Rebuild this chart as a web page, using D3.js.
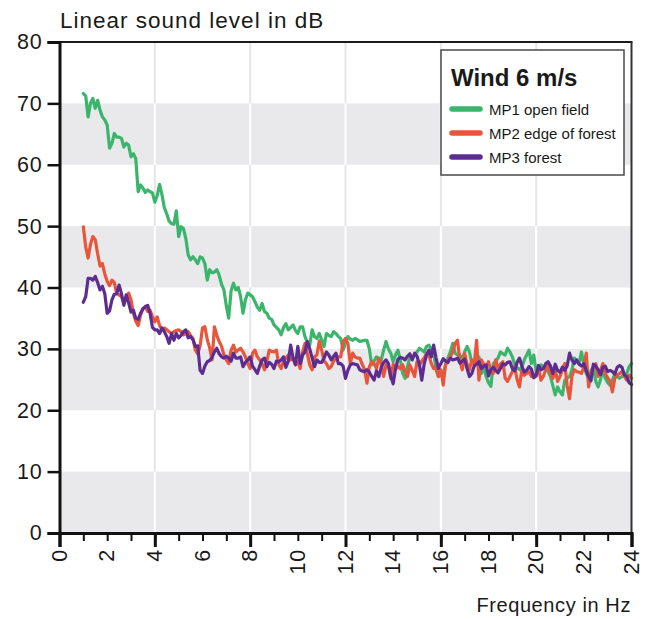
<!DOCTYPE html>
<html><head><meta charset="utf-8">
<script src="https://cdn.jsdelivr.net/npm/d3@7"></script>
<style>
body{margin:0;background:#fff}
text{font-family:"Liberation Sans",Arial,sans-serif;fill:#1a1a1a}
</style>
</head><body>
<svg id="chart" width="649" height="619"></svg>
<script>
// Frequency axis of the measured spectra: 1.0 Hz to 24.0 Hz in 0.1 Hz steps
const freqStart = 1.0;
const freqStep = 0.1;

// MP1 open field (one row per Hz: x.0 ... x.9)
const mp1 = [
71.6,71.2,67.8,70.0,70.8,69.2,70.5,68.9,67.8,67.3,
66.5,62.7,63.5,65.1,64.5,64.5,64.3,62.9,63.5,63.2,
61.3,61.8,61.0,55.6,56.7,56.2,55.5,55.9,55.6,55.4,
53.9,55.0,56.8,55.1,53.0,52.0,50.8,50.4,50.3,52.5,
48.3,49.9,49.6,48.0,45.3,44.5,45.0,44.5,43.9,45.0,
44.8,43.9,41.2,42.9,42.4,42.5,42.9,42.0,40.5,39.6,
37.0,35.0,39.5,40.7,39.6,40.0,38.5,35.8,38.0,39.1,
38.8,38.5,37.7,36.8,36.3,37.4,36.1,35.8,35.0,34.8,
33.9,33.5,33.1,32.3,33.5,34.1,33.1,33.5,33.9,33.0,
32.5,33.6,33.6,32.0,31.0,30.6,33.1,32.0,31.7,32.5,
31.5,30.4,32.5,32.2,32.0,32.8,32.5,32.0,31.7,29.8,
31.0,32.0,31.6,31.4,31.7,31.5,31.2,31.3,31.4,31.4,
30.0,27.4,28.0,28.7,28.3,28.2,29.8,31.2,30.0,29.3,
27.9,29.0,29.8,28.2,26.0,25.2,27.1,28.7,28.5,29.0,
29.5,30.1,29.8,29.5,30.4,30.6,30.0,29.5,26.6,25.5,
25.8,26.0,27.4,28.5,29.5,30.9,29.3,29.0,29.0,28.2,
29.5,30.4,29.5,27.7,28.0,28.2,28.7,26.0,27.0,25.5,
24.5,23.9,27.6,28.0,28.5,29.5,29.2,29.0,30.1,29.5,
28.7,27.4,27.0,26.6,27.0,28.2,29.0,29.8,27.6,29.0,
26.3,26.8,27.4,27.0,26.8,26.3,25.5,24.0,22.5,23.8,
23.0,22.5,24.9,25.2,25.5,26.6,28.5,28.0,27.6,29.5,
27.5,26.0,25.2,26.5,27.1,24.7,23.8,25.0,26.6,25.2,
24.5,24.1,24.9,26.0,25.5,25.2,25.5,25.8,26.0,27.1,
27.6
];

// MP2 edge of forest
const mp2 = [
49.9,46.6,44.8,47.0,48.3,47.8,45.5,43.5,43.9,42.2,
41.0,40.3,41.2,40.8,39.0,38.8,38.5,37.5,38.0,39.1,
38.0,35.8,34.5,33.8,35.5,36.6,36.8,36.1,36.3,35.3,
34.4,35.2,33.8,33.1,33.4,33.1,32.8,32.5,32.8,33.0,
33.1,32.8,32.3,32.5,32.8,32.2,31.7,29.8,29.2,30.5,
33.4,33.6,31.5,30.2,28.2,33.6,32.2,31.2,30.4,29.0,
28.2,27.6,29.8,30.6,29.5,29.8,30.1,29.5,28.7,27.6,
26.8,29.3,29.8,28.7,28.2,27.6,26.6,28.0,29.8,29.6,
29.5,29.8,27.5,26.8,28.0,28.5,29.0,28.2,28.5,27.4,
27.9,26.8,29.5,30.9,29.2,27.4,26.6,28.7,29.0,31.3,
29.8,28.0,27.6,26.8,27.1,28.0,28.5,28.7,28.7,31.2,
31.7,30.9,27.6,29.3,28.7,28.5,28.5,27.5,26.6,24.4,
27.1,27.9,27.6,26.8,28.5,27.6,25.5,27.4,27.2,25.2,
27.5,26.6,27.2,26.8,27.4,26.3,25.5,27.4,26.5,25.5,
27.9,27.4,28.0,28.5,29.3,29.0,27.6,26.8,27.0,25.5,
26.6,24.1,27.5,28.2,28.7,29.5,30.9,31.4,28.0,26.6,
29.3,27.5,26.6,28.2,27.4,31.4,24.9,28.2,27.5,27.1,
27.9,26.5,26.0,28.2,26.8,27.5,27.9,25.2,24.7,25.5,
26.3,27.1,25.0,23.8,26.6,25.7,26.0,26.3,25.5,25.8,
26.0,26.8,24.9,25.5,26.6,27.6,26.0,25.2,26.6,24.7,
25.5,26.6,27.6,24.0,21.9,25.5,26.6,26.3,26.2,26.0,
27.0,29.3,23.8,26.0,27.0,27.6,25.5,26.5,27.6,26.0,
25.3,24.7,23.0,25.2,25.7,26.0,26.3,25.5,24.9,25.7,
25.2
];

// MP3 forest
const mp3 = [
37.6,38.5,41.5,41.5,41.2,41.8,40.8,39.6,40.2,39.0,
35.8,36.2,38.0,38.9,39.0,40.4,39.0,37.1,38.8,37.5,
36.0,36.3,35.0,34.8,35.8,36.5,36.9,37.1,35.8,33.5,
33.1,33.1,32.5,33.4,32.8,32.0,30.9,32.5,31.4,32.5,
31.8,32.2,32.8,33.1,31.8,32.0,31.5,30.4,30.5,26.5,
26.0,27.2,27.9,28.1,28.6,29.5,30.1,29.2,28.7,28.5,
28.8,28.5,28.0,29.3,28.5,28.5,28.7,27.1,27.8,28.2,
28.7,27.2,26.6,26.0,27.2,28.2,28.5,27.1,27.8,27.5,
26.8,28.0,27.9,28.2,28.7,27.0,28.0,30.6,28.5,27.4,
30.4,27.6,29.0,29.5,31.2,30.0,28.5,27.1,28.2,27.8,
27.8,28.5,29.5,29.0,28.2,28.8,29.3,27.6,27.6,27.2,
25.2,26.5,27.4,27.6,27.5,27.4,26.6,26.4,26.3,26.6,
26.2,25.5,24.9,26.4,25.5,27.0,27.8,28.2,27.6,25.5,
24.3,26.8,28.3,28.6,28.5,28.2,28.8,29.2,28.2,29.3,
28.8,27.5,24.9,27.5,29.0,29.8,28.7,30.6,28.5,26.8,
27.6,28.4,28.0,27.8,28.5,28.2,28.3,28.5,27.7,28.0,
28.3,26.8,25.5,26.0,27.2,27.5,27.9,26.8,27.2,27.4,
25.6,26.6,27.0,26.5,26.1,26.8,27.6,27.4,27.8,27.9,
26.8,26.4,27.8,28.5,27.2,26.2,26.5,27.1,26.7,25.3,
25.6,27.3,26.6,26.8,27.6,27.9,27.2,26.0,27.5,26.5,
26.2,27.0,26.5,27.2,29.3,28.2,27.6,28.2,27.5,27.2,
27.6,26.4,25.5,24.8,27.5,27.2,26.6,25.8,27.0,27.2,
26.3,26.5,26.3,25.9,27.0,27.3,27.0,25.8,25.5,24.5,
24.2
];

const seriesNames = ["MP1 open field", "MP2 edge of forest", "MP3 forest"];
const seriesColors = ["#3bb56b", "#e8553b", "#5d2c91"];
const yTickValues = [0, 10, 20, 30, 40, 50, 60, 70, 80];
const xLabelValues = [0, 2, 4, 6, 8, 10, 12, 14, 16, 18, 20, 22, 24];
const xGridValues = [4, 8, 12, 16, 20];
const bandStarts = [0, 20, 40, 60];
const yTitle = "Linear sound level in dB";
const xTitle = "Frequency in Hz";
const legendTitle = "Wind 6 m/s";

const svg = d3.select("#chart");
const x = d3.scaleLinear().domain([0, 24]).range([59.5, 631.5]);
const y = d3.scaleLinear().domain([0, 80]).range([533, 42]);

// background bands
svg.append("g").selectAll("rect").data(bandStarts).join("rect")
  .attr("x", x(0)).attr("width", x(24) - x(0))
  .attr("y", d => y(d + 10)).attr("height", d => y(d) - y(d + 10))
  .attr("fill", "#e9e9ec");

// vertical grid lines, white on grey bands, light grey on white bands
const gridSegs = [];
xGridValues.forEach(g => d3.range(0, 80, 10).forEach(b => gridSegs.push({g, b})));
svg.append("g").selectAll("line").data(gridSegs).join("line")
  .attr("x1", d => x(d.g)).attr("x2", d => x(d.g))
  .attr("y1", d => y(d.b)).attr("y2", d => y(d.b + 10))
  .attr("stroke", d => bandStarts.includes(d.b) ? "#ffffff" : "#e6e6e8")
  .attr("stroke-width", 2);

// series lines
const line = d3.line()
  .x((d, i) => x(freqStart + i * freqStep))
  .y(d => y(d));
[mp1, mp2, mp3].forEach((s, k) => {
  svg.append("path").datum(s)
    .attr("d", line)
    .attr("fill", "none")
    .attr("stroke", seriesColors[k])
    .attr("stroke-width", 3.2)
    .attr("stroke-linejoin", "round")
    .attr("stroke-linecap", "round");
});

// frame: top and right
svg.append("line").attr("x1", x(0)).attr("x2", x(24) + 1).attr("y1", y(80)).attr("y2", y(80))
  .attr("stroke", "#1a1a1a").attr("stroke-width", 2);
svg.append("line").attr("x1", x(24)).attr("x2", x(24)).attr("y1", y(80)).attr("y2", y(0))
  .attr("stroke", "#333").attr("stroke-width", 2);

// y axis
const yAxis = d3.axisLeft(y).tickValues(yTickValues).tickSize(12).tickPadding(5).tickFormat(d3.format("d"));
const gy = svg.append("g").attr("transform", `translate(${x(0)},0)`).call(yAxis);
gy.select(".domain").attr("stroke", "#111").attr("stroke-width", 3);
gy.selectAll(".tick line").attr("stroke", "#111").attr("stroke-width", 2.5);
gy.selectAll(".tick text").attr("font-size", 21.5).attr("fill", "#1a1a1a")
  .attr("font-family", "Liberation Sans, Arial, sans-serif").attr("letter-spacing", 0.8);

// x axis: minor ticks each Hz, major ticks every 4 Hz
const xMinor = d3.axisBottom(x).ticks(24).tickSize(8).tickFormat("");
const gxm = svg.append("g").attr("transform", `translate(0,${y(0)})`).call(xMinor);
gxm.select(".domain").remove();
gxm.selectAll(".tick line").attr("stroke", "#111").attr("stroke-width", 2);
const xMajor = d3.axisBottom(x).tickValues(xGridValues.concat([0, 24])).tickSize(14).tickFormat("");
const gx = svg.append("g").attr("transform", `translate(0,${y(0)})`).call(xMajor);
gx.select(".domain").attr("stroke", "#111").attr("stroke-width", 3);
gx.selectAll(".tick line").attr("stroke", "#111").attr("stroke-width", 3);

svg.append("g").selectAll("text").data(xLabelValues).join("text")
  .attr("transform", d => `translate(${x(d)},${y(0) + 16}) rotate(-90)`)
  .attr("text-anchor", "end").attr("dominant-baseline", "central")
  .attr("font-size", 21.5).attr("letter-spacing", 0.8)
  .text(d => d);

// titles
svg.append("text").attr("x", 60).attr("y", 28).attr("font-size", 22.5)
  .attr("letter-spacing", 1.0).text(yTitle);
svg.append("text").attr("x", 631).attr("y", 612).attr("text-anchor", "end")
  .attr("font-size", 20).attr("letter-spacing", 0.6).text(xTitle);

// legend
const lg = svg.append("g");
lg.append("rect").attr("x", 441).attr("y", 50).attr("width", 183).attr("height", 125)
  .attr("fill", "#fff").attr("stroke", "#4a4a4a").attr("stroke-width", 1.5);
lg.append("text").attr("x", 451).attr("y", 86).attr("font-size", 24).attr("font-weight", "bold")
  .text(legendTitle);
seriesNames.forEach((n, k) => {
  const yy = 109 + k * 24;
  lg.append("line").attr("x1", 452).attr("x2", 480).attr("y1", yy).attr("y2", yy)
    .attr("stroke", seriesColors[k]).attr("stroke-width", 5.5).attr("stroke-linecap", "round");
  lg.append("text").attr("x", 489).attr("y", yy + 5.5).attr("font-size", 15).text(n);
});
</script>
</body></html>
